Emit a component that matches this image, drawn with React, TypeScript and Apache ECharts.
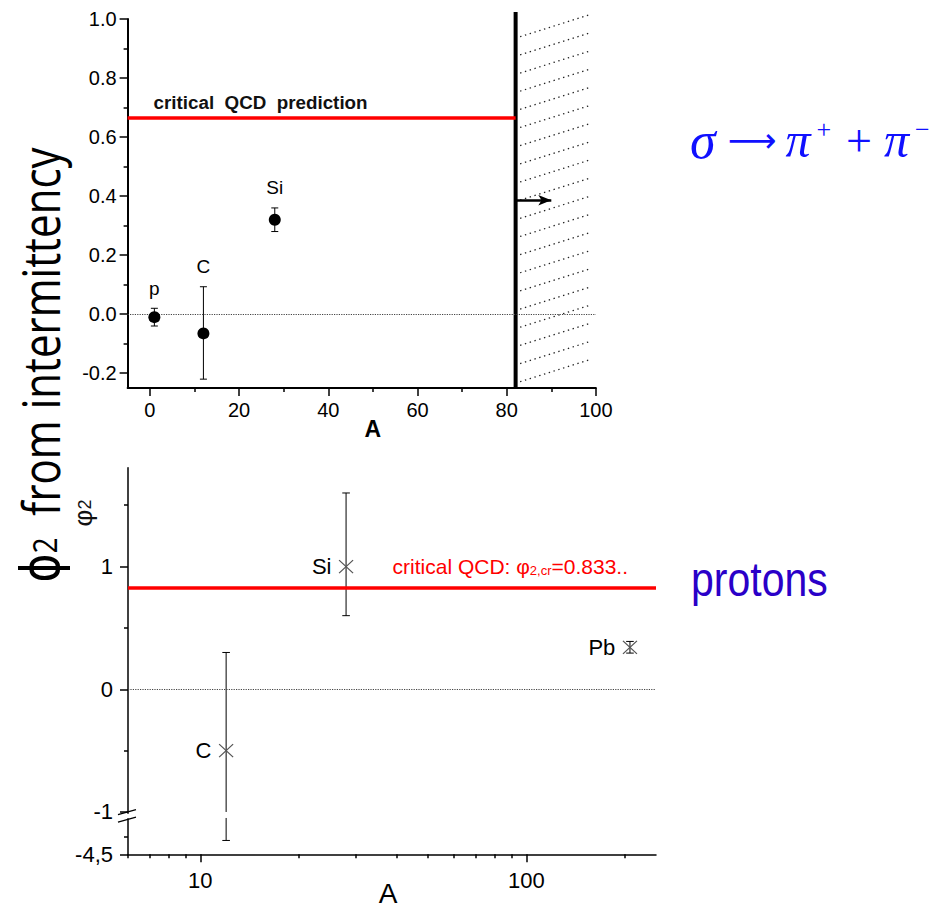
import React, { useEffect, useRef } from "react";
import * as echarts from "echarts";

const FONT = "'Liberation Sans', Arial, Helvetica, sans-serif";
const SERIF = "'Liberation Serif', 'Times New Roman', serif";

// ---------- upper panel (sigma -> pi+ pi-) ----------
const topNuclei = ["p", "C", "Si"];
const topA = [1, 12, 28];
const topPhi = [-0.01, -0.065, 0.32];
const topErrLow = [-0.04, -0.22, 0.28];
const topErrHigh = [0.02, 0.093, 0.36];
const topXMin = -5;
const topXMax = 100;
const topYMin = -0.25;
const topYMax = 1.0;
const topXTicks = [0, 20, 40, 60, 80, 100];
const topXMinorTicks = [10, 30, 50, 70, 90];
const topYTicks = [-0.2, 0, 0.2, 0.4, 0.6, 0.8, 1.0];
const topYMinorTicks = [-0.1, 0.1, 0.3, 0.5, 0.7, 0.9];
const topCriticalPhi = 0.665;
const topLimitA = 82;
const topArrowA = [82, 90];
const topArrowPhi = 0.386;

// ---------- lower panel (protons) ----------
const botNuclei = ["C", "Si", "Pb"];
const botA = [12, 28, 208];
const botPhi = [-0.5, 1.0, 0.342];
const botErrLow = [-4.1, 0.6, 0.295];
const botErrHigh = [0.3, 1.6, 0.39];
const botXMin = 6;
const botXMax = 250;
const botXTicks = [10, 100];
const botXMinorTicks = [6, 7, 8, 9, 20, 30, 40, 50, 60, 70, 80, 90, 200];
const botYMin = -4.5;
const botYMax = 1.806;
const botYTicks = [-4.5, -1, 0, 1];
const botYMinorTicks = [-4, -0.5, 0.5, 1.5];
const botCriticalPhi = 0.833;
const botYBreak = [-3.45, -1]; // omitted range of the broken y axis

// broken-axis mapping: values below the break are drawn compressed
const LOWER_DISPLAY_MIN = -1.345;
const LOWER_SCALE = 0.282;
const toAxis = (v: number) =>
  v >= botYBreak[1] ? v : LOWER_DISPLAY_MIN + (v - botYMin) * LOWER_SCALE;
const fromAxis = (d: number) =>
  d >= botYBreak[1] - 1e-9 ? d : botYMin + (d - LOWER_DISPLAY_MIN) / LOWER_SCALE;

function buildOption(): any {
  const black = "#000";
  const tickStyle = { color: black, width: 1.5 };

  const xAxis = [
    {
      gridIndex: 0,
      type: "value",
      min: topXMin,
      max: topXMax,
      position: "bottom",
      axisLine: { show: true, onZero: false, lineStyle: { color: black, width: 2 } },
      axisTick: { show: true, length: 8, lineStyle: tickStyle, customValues: topXTicks },
      axisLabel: {
        show: true,
        customValues: topXTicks,
        margin: 12,
        fontSize: 20,
        color: black,
        fontFamily: FONT,
      },
      splitLine: { show: false },
      name: "A",
      nameLocation: "middle",
      nameGap: 29,
      nameMoveOverlap: false,
      nameTextStyle: {
        fontSize: 23,
        fontWeight: "bold",
        color: black,
        fontFamily: FONT,
        padding: [0, 0, 0, 22],
      },
    },
    {
      gridIndex: 0,
      type: "value",
      min: topXMin,
      max: topXMax,
      position: "bottom",
      axisLine: { show: false, onZero: false },
      axisTick: { show: true, length: 4, lineStyle: tickStyle, customValues: topXMinorTicks },
      axisLabel: { show: false },
      splitLine: { show: false },
    },
    {
      gridIndex: 1,
      type: "log",
      logBase: 10,
      min: botXMin,
      max: botXMax,
      position: "bottom",
      axisLine: { show: true, onZero: false, lineStyle: { color: black, width: 1.5 } },
      axisTick: { show: true, length: 8, lineStyle: tickStyle, customValues: botXTicks },
      axisLabel: {
        show: true,
        customValues: botXTicks,
        margin: 15,
        fontSize: 22,
        color: black,
        fontFamily: FONT,
      },
      splitLine: { show: false },
      minorSplitLine: { show: false },
      name: "A",
      nameLocation: "middle",
      nameGap: 25,
      nameMoveOverlap: false,
      nameTextStyle: { fontSize: 28, color: black, fontFamily: FONT, padding: [0, 8, 0, 0] },
    },
    {
      gridIndex: 1,
      type: "log",
      logBase: 10,
      min: botXMin,
      max: botXMax,
      position: "bottom",
      axisLine: { show: false, onZero: false },
      axisTick: { show: true, length: 4, lineStyle: tickStyle, customValues: botXMinorTicks },
      axisLabel: { show: false },
      splitLine: { show: false },
    },
  ];

  const yAxis = [
    {
      gridIndex: 0,
      type: "value",
      min: topYMin,
      max: topYMax,
      position: "left",
      axisLine: { show: true, onZero: false, lineStyle: { color: black, width: 2 } },
      axisTick: { show: true, length: 8, lineStyle: tickStyle, customValues: topYTicks },
      axisLabel: {
        show: true,
        customValues: topYTicks,
        margin: 11,
        fontSize: 20,
        color: black,
        fontFamily: FONT,
        formatter: (v: number) => v.toFixed(1),
      },
      splitLine: { show: false },
    },
    {
      gridIndex: 0,
      type: "value",
      min: topYMin,
      max: topYMax,
      position: "left",
      axisLine: { show: false, onZero: false },
      axisTick: { show: true, length: 4, lineStyle: tickStyle, customValues: topYMinorTicks },
      axisLabel: { show: false },
      splitLine: { show: false },
    },
    {
      gridIndex: 1,
      type: "value",
      min: toAxis(botYMin),
      max: botYMax,
      position: "left",
      axisLine: { show: true, onZero: false, lineStyle: { color: black, width: 1.5 } },
      axisTick: {
        show: true,
        length: 8,
        lineStyle: tickStyle,
        customValues: botYTicks.map(toAxis),
      },
      axisLabel: {
        show: true,
        customValues: botYTicks.map(toAxis),
        margin: 15,
        fontSize: 22,
        color: black,
        fontFamily: FONT,
        formatter: (v: number) => {
          const r = Math.round(fromAxis(v) * 10) / 10;
          return String(r).replace(".", ",");
        },
      },
      splitLine: { show: false },
    },
    {
      gridIndex: 1,
      type: "value",
      min: toAxis(botYMin),
      max: botYMax,
      position: "left",
      axisLine: { show: false, onZero: false },
      axisTick: {
        show: true,
        length: 4,
        lineStyle: tickStyle,
        customValues: botYMinorTicks.map(toAxis),
      },
      axisLabel: { show: false },
      splitLine: { show: false },
    },
  ];

  const dotted = { type: "dotted", color: "#444", width: 1.2 };

  const series: any[] = [
    // forbidden region: thick limit line + hatching
    {
      type: "custom",
      name: "limit",
      xAxisIndex: 0,
      yAxisIndex: 0,
      silent: true,
      clip: false,
      data: [[topLimitA]],
      renderItem: (params: any, api: any) => {
        const cs = params.coordSys;
        const x = api.coord([api.value(0), topYMax])[0];
        const top = cs.y;
        const bottom = cs.y + cs.height;
        const right = cs.x + cs.width;
        const children: any[] = [];
        const n = 20;
        const step = (cs.height - 24) / (n - 1);
        for (let i = 0; i < n; i++) {
          const y0 = top + 17.7 + i * step;
          children.push({
            type: "line",
            shape: { x1: x + 4.5, y1: y0, x2: right - 6, y2: y0 - 22 },
            style: { stroke: "#222", lineWidth: 1.3, lineDash: [1.4, 3.6] },
          });
        }
        children.push({
          type: "line",
          shape: { x1: x, y1: top - 7, x2: x, y2: bottom },
          style: { stroke: "#000", lineWidth: 4 },
        });
        return { type: "group", children };
      },
    },
    // upper error bars + nucleus labels
    {
      type: "custom",
      name: "topErr",
      xAxisIndex: 0,
      yAxisIndex: 0,
      silent: true,
      data: topA.map((a, i) => [a, topErrLow[i], topErrHigh[i]]),
      renderItem: (params: any, api: any) => {
        const lo = api.coord([api.value(0), api.value(1)]);
        const hi = api.coord([api.value(0), api.value(2)]);
        const w = 3.5;
        const st = { stroke: "#000", lineWidth: 1 };
        return {
          type: "group",
          children: [
            { type: "line", shape: { x1: lo[0], y1: lo[1], x2: hi[0], y2: hi[1] }, style: st },
            { type: "line", shape: { x1: lo[0] - w, y1: lo[1], x2: lo[0] + w, y2: lo[1] }, style: st },
            { type: "line", shape: { x1: hi[0] - w, y1: hi[1], x2: hi[0] + w, y2: hi[1] }, style: st },
            {
              type: "text",
              x: hi[0],
              y: hi[1] - 20,
              style: {
                text: topNuclei[params.dataIndex],
                fill: "#000",
                fontSize: 19,
                fontFamily: FONT,
                align: "center",
                verticalAlign: "middle",
              },
            },
          ],
        };
      },
      markLine: {
        silent: true,
        symbol: ["none", "arrow"],
        symbolSize: [8, 13],
        label: { show: false },
        lineStyle: { color: "#000", width: 2.5, type: "solid" },
        data: [
          [
            { coord: [topArrowA[0], topArrowPhi] },
            { coord: [topArrowA[1], topArrowPhi] },
          ],
        ],
      },
    },
    // upper points
    {
      type: "scatter",
      name: "sigma",
      xAxisIndex: 0,
      yAxisIndex: 0,
      symbol: "circle",
      symbolSize: 12,
      itemStyle: { color: "#000", opacity: 1 },
      data: topA.map((a, i) => [a, topPhi[i]]),
      z: 5,
      markLine: {
        silent: true,
        symbol: ["none", "none"],
        label: { show: false },
        data: [
          { yAxis: 0, lineStyle: dotted },
          [
            {
              coord: [topXMin, topCriticalPhi],
              lineStyle: { color: "#ff0000", width: 3.5, type: "solid" },
              label: {
                show: true,
                position: "insideStartTop",
                distance: [26, 6],
                formatter: "critical  QCD  prediction",
                fontSize: 18.8,
                fontWeight: "bold",
                color: "#111",
                fontFamily: FONT,
              },
            },
            { coord: [topLimitA, topCriticalPhi] },
          ],
        ],
      },
    },
    // lower error bars (with axis break gap)
    {
      type: "custom",
      name: "botErr",
      xAxisIndex: 2,
      yAxisIndex: 2,
      silent: true,
      data: botA.map((a, i) => [a, toAxis(botErrLow[i]), toAxis(botErrHigh[i])]),
      renderItem: (params: any, api: any) => {
        const a = api.value(0);
        const loV = api.value(1);
        const hiV = api.value(2);
        const lo = api.coord([a, loV]);
        const hi = api.coord([a, hiV]);
        const w = 3.8;
        const st = { stroke: "#000", lineWidth: 1 };
        const children: any[] = [
          { type: "line", shape: { x1: lo[0] - w, y1: lo[1], x2: lo[0] + w, y2: lo[1] }, style: st },
          { type: "line", shape: { x1: hi[0] - w, y1: hi[1], x2: hi[0] + w, y2: hi[1] }, style: st },
        ];
        if (loV < botYBreak[1]) {
          const b1 = api.coord([a, toAxis(botYBreak[0])]);
          const b2 = api.coord([a, botYBreak[1]]);
          children.push({ type: "line", shape: { x1: lo[0], y1: lo[1], x2: b1[0], y2: b1[1] }, style: st });
          children.push({ type: "line", shape: { x1: b2[0], y1: b2[1], x2: hi[0], y2: hi[1] }, style: st });
        } else {
          children.push({ type: "line", shape: { x1: lo[0], y1: lo[1], x2: hi[0], y2: hi[1] }, style: st });
        }
        return { type: "group", children };
      },
    },
    // axis-break mark
    {
      type: "custom",
      name: "break",
      xAxisIndex: 2,
      yAxisIndex: 2,
      silent: true,
      clip: false,
      data: [[botXMin, botYBreak[1]]],
      renderItem: (params: any, api: any) => {
        const cs = params.coordSys;
        const x = cs.x;
        const yTop = api.coord([botXMin, botYBreak[1]])[1];
        const yBot = api.coord([botXMin, toAxis(botYBreak[0])])[1];
        const st = { stroke: "#000", lineWidth: 1.2 };
        return {
          type: "group",
          children: [
            { type: "rect", shape: { x: x - 2, y: yTop + 1.8, width: 4, height: yBot - yTop - 1.5 }, style: { fill: "#fff" } },
            { type: "line", shape: { x1: x - 10, y1: yTop + 2.7, x2: x + 8, y2: yTop - 2.3 }, style: st },
            { type: "line", shape: { x1: x - 10, y1: yBot + 4.2, x2: x + 8, y2: yBot - 0.8 }, style: st },
          ],
        };
      },
    },
    // lower points
    {
      type: "scatter",
      name: "protons",
      xAxisIndex: 2,
      yAxisIndex: 2,
      symbol: "path://M0 0L14 13M14 0L0 13",
      symbolSize: [14, 13],
      itemStyle: { color: "transparent", borderColor: "#555", borderWidth: 1.2, opacity: 1 },
      data: botA.map((a, i) => ({ value: [a, toAxis(botPhi[i])], name: botNuclei[i] })),
      label: {
        show: true,
        position: "left",
        distance: 7,
        formatter: "{b}",
        fontSize: 22,
        color: "#000",
        fontFamily: FONT,
      },
      z: 5,
      markLine: {
        silent: true,
        symbol: ["none", "none"],
        label: { show: false },
        data: [
          { yAxis: 0, lineStyle: dotted },
          {
            yAxis: botCriticalPhi,
            lineStyle: { color: "#ff0000", width: 3.5, type: "solid" },
            label: {
              show: true,
              position: "insideEndTop",
              distance: [28, 3],
              formatter: "{a|critical QCD: φ}{s|2,cr}{a|=0.833..}",
              rich: {
                a: { fontSize: 21, color: "#ff0000", fontFamily: FONT, padding: [0, 0, 7, 0] },
                s: { fontSize: 13, color: "#ff0000", fontFamily: FONT },
              },
            },
          },
        ],
      },
    },
  ];

  const graphic = [
    {
      type: "text",
      x: 44,
      y: 365,
      rotation: Math.PI / 2,
      scaleY: 1.2,
      silent: true,
      style: {
        text: "{p|ϕ}{s|2}{t|  from intermittency}",
        align: "center",
        verticalAlign: "middle",
        rich: {
          p: { fontSize: 44, fontFamily: "'DejaVu Sans', 'Noto Sans', sans-serif", fill: "#000", padding: [0, 0, 6, 0] },
          s: { fontSize: 28, fontFamily: "'Open Sans', 'Noto Sans', sans-serif", fill: "#000" },
          t: { fontSize: 42, fontFamily: "'Open Sans', 'Noto Sans', sans-serif", fill: "#000", padding: [0, 0, 6, 0] },
        },
      },
    },
    {
      type: "text",
      x: 85,
      y: 513,
      rotation: Math.PI / 2,
      silent: true,
      style: {
        text: "{p|φ}{s|2}",
        align: "center",
        verticalAlign: "middle",
        rich: {
          p: { fontSize: 26, fontFamily: FONT, fill: "#111", padding: [0, 0, 5, 0] },
          s: { fontSize: 18, fontFamily: FONT, fill: "#111" },
        },
      },
    },
    {
      type: "text",
      x: 690,
      y: 140,
      silent: true,
      style: {
        text: "{g1|σ}{a|⟶}{g2|π}{u1|+}{n|+}{g2|π}{u2|−}",
        align: "left",
        verticalAlign: "middle",
        rich: {
          g1: { fontSize: 52, fontFamily: SERIF, fontStyle: "italic", fill: "#1010ff", padding: [0, 12, 0, 0] },
          g2: { fontSize: 50, fontFamily: SERIF, fontStyle: "italic", fill: "#1010ff", padding: [0, 6, 0, 0] },
          a: { fontSize: 34, fontFamily: "'DejaVu Sans', sans-serif", fill: "#1010ff", padding: [0, 9, 0, 0] },
          n: { fontSize: 46, fontFamily: SERIF, fill: "#1010ff", padding: [0, 12, 0, 0] },
          u1: { fontSize: 26, fontFamily: SERIF, fill: "#1010ff", verticalAlign: "top", padding: [2, 15, 0, 0] },
          u2: { fontSize: 26, fontFamily: SERIF, fill: "#1010ff", verticalAlign: "top", padding: [2, 0, 0, 0] },
        },
      },
    },
    {
      type: "text",
      x: 691,
      y: 579,
      scaleY: 1.15,
      silent: true,
      style: {
        text: "protons",
        align: "left",
        verticalAlign: "middle",
        fontSize: 41,
        fontFamily: FONT,
        fill: "#2a00c8",
      },
    },
  ];

  return {
    animation: false,
    backgroundColor: "#fff",
    textStyle: { fontFamily: FONT },
    grid: [
      { left: 127.6, top: 19, width: 468.3, height: 369, outerBoundsMode: "none", containLabel: false },
      { left: 128, top: 467.7, width: 528, height: 386.6, outerBoundsMode: "none", containLabel: false },
    ],
    xAxis,
    yAxis,
    series,
    graphic,
  };
}

export default function App() {
  const ref = useRef<HTMLDivElement>(null);
  useEffect(() => {
    if (!ref.current) return;
    const chart = echarts.init(ref.current, undefined, { renderer: "svg" });
    chart.setOption(buildOption());
    return () => chart.dispose();
  }, []);
  return (
    <div
      ref={ref}
      style={{ position: "absolute", left: 0, top: 0, width: 946, height: 911, background: "#fff" }}
    />
  );
}
